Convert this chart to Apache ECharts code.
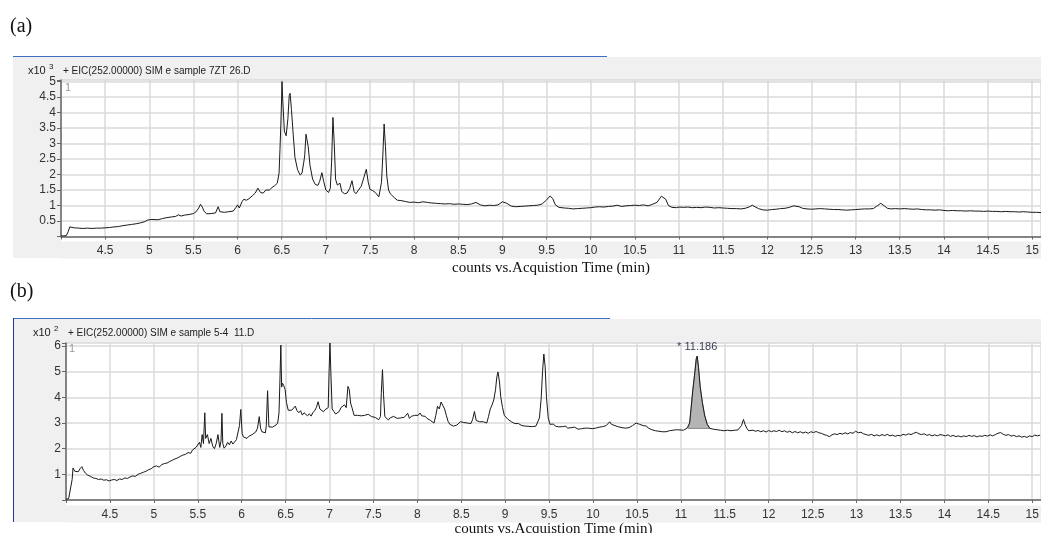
<!DOCTYPE html>
<html>
<head>
<meta charset="utf-8">
<script src="https://cdn.jsdelivr.net/npm/echarts@6/dist/echarts.min.js"></script>
<style>
html, body { margin: 0; padding: 0; background: #fff; }
#chart0 { width: 1041px; height: 533px; }
</style>
</head>
<body>
<div id="chart0"></div>
<script>
'use strict';

// (a) sample 7ZT 26.D, counts x10^3
var aTime = [4.00, 4.03, 4.06, 4.08, 4.10, 4.12, 4.15, 4.20, 4.25, 4.30, 4.35, 4.40, 4.45, 4.50, 4.55, 4.60,
	4.65, 4.70, 4.75, 4.80, 4.85, 4.90, 4.95, 4.98, 5.00, 5.03, 5.05, 5.10, 5.15, 5.20, 5.25, 5.30,
	5.33, 5.36, 5.40, 5.45, 5.50, 5.53, 5.56, 5.58, 5.60, 5.62, 5.65, 5.70, 5.75, 5.78, 5.80, 5.85,
	5.90, 5.95, 5.98, 6.00, 6.02, 6.05, 6.07, 6.10, 6.13, 6.17, 6.20, 6.23, 6.26, 6.29, 6.32, 6.34,
	6.36, 6.39, 6.42, 6.45, 6.47, 6.48, 6.49, 6.50, 6.503, 6.51, 6.53, 6.55, 6.56, 6.57, 6.585, 6.595,
	6.61, 6.63, 6.65, 6.68, 6.71, 6.73, 6.75, 6.76, 6.775, 6.785, 6.80, 6.82, 6.85, 6.88, 6.91, 6.93,
	6.955, 6.975, 7.00, 7.03, 7.05, 7.065, 7.08, 7.095, 7.11, 7.13, 7.16, 7.18, 7.21, 7.24, 7.27, 7.296,
	7.32, 7.34, 7.37, 7.40, 7.43, 7.458, 7.48, 7.50, 7.53, 7.56, 7.60, 7.63, 7.645, 7.66, 7.675, 7.69,
	7.71, 7.73, 7.75, 7.78, 7.81, 7.85, 7.90, 7.95, 8.00, 8.05, 8.10, 8.15, 8.20, 8.25, 8.30, 8.35,
	8.40, 8.45, 8.50, 8.55, 8.60, 8.65, 8.70, 8.75, 8.80, 8.85, 8.90, 8.95, 9.00, 9.02, 9.05, 9.10,
	9.15, 9.20, 9.25, 9.30, 9.35, 9.40, 9.45, 9.50, 9.54, 9.57, 9.60, 9.64, 9.70, 9.75, 9.80, 9.85,
	9.90, 9.95, 10.00, 10.05, 10.10, 10.15, 10.20, 10.25, 10.30, 10.35, 10.40, 10.45, 10.50, 10.55, 10.60, 10.65,
	10.70, 10.75, 10.80, 10.82, 10.85, 10.88, 10.92, 10.97, 11.00, 11.05, 11.10, 11.15, 11.20, 11.25, 11.30, 11.35,
	11.40, 11.45, 11.50, 11.55, 11.60, 11.65, 11.70, 11.75, 11.80, 11.83, 11.86, 11.90, 11.95, 12.00, 12.05, 12.10,
	12.15, 12.20, 12.25, 12.30, 12.32, 12.36, 12.40, 12.45, 12.50, 12.55, 12.60, 12.65, 12.70, 12.75, 12.80, 12.85,
	12.90, 12.95, 13.00, 13.05, 13.10, 13.15, 13.20, 13.25, 13.285, 13.32, 13.36, 13.40, 13.45, 13.50, 13.55, 13.60,
	13.65, 13.70, 13.75, 13.80, 13.85, 13.90, 13.95, 14.00, 14.05, 14.10, 14.15, 14.20, 14.25, 14.30, 14.35, 14.40,
	14.45, 14.50, 14.55, 14.60, 14.65, 14.70, 14.75, 14.80, 14.85, 14.90, 14.95, 15.00, 15.05, 15.11];
var aCount = [0.02, 0.02, 0.03, 0.15, 0.31, 0.30, 0.28, 0.27, 0.26, 0.27, 0.26, 0.27, 0.27, 0.28, 0.29, 0.31,
	0.32, 0.35, 0.37, 0.39, 0.41, 0.44, 0.48, 0.53, 0.51, 0.55, 0.50, 0.54, 0.58, 0.61, 0.63, 0.65,
	0.70, 0.66, 0.69, 0.71, 0.74, 0.80, 0.92, 1.04, 0.95, 0.82, 0.73, 0.74, 0.76, 0.96, 0.80, 0.78,
	0.80, 0.82, 0.93, 1.02, 0.92, 1.12, 1.20, 1.17, 1.22, 1.32, 1.40, 1.56, 1.42, 1.40, 1.50, 1.56,
	1.50, 1.58, 1.64, 1.72, 2.05, 2.80, 3.60, 4.60, 5.00, 4.50, 3.40, 3.25, 3.30, 3.80, 4.55, 4.62,
	4.10, 3.30, 2.55, 2.15, 1.98, 2.05, 2.40, 2.60, 3.30, 3.33, 2.90, 2.30, 1.85, 1.68, 1.65, 1.78,
	2.06, 1.78, 1.50, 1.42, 1.55, 2.40, 3.84, 3.00, 1.85, 1.66, 1.72, 1.45, 1.38, 1.40, 1.55, 1.80,
	1.45, 1.38, 1.50, 1.62, 1.90, 2.17, 1.75, 1.52, 1.48, 1.42, 1.28, 1.75, 2.60, 3.63, 2.90, 1.95,
	1.50, 1.38, 1.42, 1.24, 1.17, 1.16, 1.13, 1.10, 1.11, 1.09, 1.12, 1.10, 1.08, 1.07, 1.06, 1.05,
	1.06, 1.04, 1.05, 1.04, 1.03, 1.05, 1.10, 1.02, 0.99, 1.01, 1.00, 1.02, 1.12, 1.15, 1.07, 0.98,
	0.96, 0.97, 0.98, 0.99, 1.00, 1.01, 1.05, 1.18, 1.31, 1.22, 1.02, 0.94, 0.92, 0.91, 0.89, 0.90,
	0.91, 0.92, 0.93, 0.95, 0.96, 0.95, 0.97, 0.98, 1.01, 0.97, 0.99, 1.00, 1.01, 1.00, 1.02, 0.99,
	1.04, 1.10, 1.30, 1.34, 1.20, 1.00, 0.94, 0.93, 0.95, 0.94, 0.95, 0.93, 0.94, 0.93, 0.95, 0.94,
	0.92, 0.93, 0.92, 0.91, 0.90, 0.90, 0.89, 0.91, 0.96, 1.01, 0.96, 0.90, 0.86, 0.85, 0.87, 0.88,
	0.90, 0.91, 0.94, 0.99, 1.01, 0.96, 0.91, 0.89, 0.88, 0.89, 0.90, 0.89, 0.88, 0.87, 0.87, 0.86,
	0.85, 0.86, 0.87, 0.88, 0.89, 0.89, 0.90, 1.00, 1.07, 1.00, 0.91, 0.89, 0.90, 0.89, 0.90, 0.89,
	0.88, 0.89, 0.87, 0.86, 0.86, 0.85, 0.86, 0.84, 0.83, 0.84, 0.83, 0.83, 0.82, 0.83, 0.82, 0.82,
	0.81, 0.82, 0.81, 0.81, 0.80, 0.81, 0.80, 0.80, 0.79, 0.80, 0.79, 0.78, 0.78, 0.77];

// (b) sample 5-4 11.D, counts x10^2
var bTime = [4.00, 4.03, 4.05, 4.07, 4.08, 4.09, 4.10, 4.12, 4.14, 4.16, 4.18, 4.20, 4.22, 4.25, 4.28, 4.31,
	4.34, 4.37, 4.40, 4.43, 4.46, 4.49, 4.52, 4.55, 4.58, 4.61, 4.64, 4.67, 4.70, 4.73, 4.76, 4.79,
	4.82, 4.85, 4.88, 4.91, 4.94, 4.97, 5.00, 5.03, 5.06, 5.09, 5.12, 5.15, 5.18, 5.21, 5.24, 5.27,
	5.30, 5.33, 5.36, 5.39, 5.42, 5.44, 5.46, 5.48, 5.50, 5.52, 5.535, 5.55, 5.565, 5.58, 5.59, 5.61,
	5.63, 5.65, 5.67, 5.69, 5.71, 5.73, 5.75, 5.765, 5.775, 5.785, 5.80, 5.82, 5.84, 5.86, 5.88, 5.90,
	5.92, 5.94, 5.96, 5.975, 5.99, 6.005, 6.02, 6.04, 6.06, 6.08, 6.10, 6.12, 6.14, 6.16, 6.18, 6.20,
	6.215, 6.23, 6.25, 6.27, 6.28, 6.295, 6.31, 6.33, 6.35, 6.37, 6.39, 6.41, 6.425, 6.435, 6.446, 6.455,
	6.465, 6.48, 6.495, 6.51, 6.53, 6.55, 6.57, 6.59, 6.61, 6.63, 6.65, 6.67, 6.69, 6.71, 6.73, 6.75,
	6.77, 6.79, 6.81, 6.83, 6.85, 6.87, 6.89, 6.91, 6.93, 6.95, 6.97, 6.985, 6.995, 7.005, 7.015, 7.03,
	7.05, 7.07, 7.09, 7.11, 7.13, 7.15, 7.17, 7.19, 7.21, 7.225, 7.24, 7.26, 7.28, 7.30, 7.32, 7.34,
	7.36, 7.38, 7.40, 7.42, 7.44, 7.46, 7.48, 7.50, 7.52, 7.54, 7.56, 7.58, 7.59, 7.603, 7.615, 7.63,
	7.65, 7.67, 7.69, 7.71, 7.73, 7.75, 7.77, 7.79, 7.81, 7.83, 7.85, 7.87, 7.89, 7.91, 7.93, 7.95,
	7.97, 7.99, 8.01, 8.03, 8.05, 8.07, 8.09, 8.11, 8.13, 8.15, 8.17, 8.19, 8.21, 8.23, 8.25, 8.27,
	8.29, 8.31, 8.33, 8.35, 8.37, 8.39, 8.41, 8.43, 8.45, 8.47, 8.49, 8.51, 8.53, 8.55, 8.57, 8.59,
	8.61, 8.63, 8.65, 8.67, 8.69, 8.71, 8.73, 8.75, 8.77, 8.79, 8.81, 8.83, 8.85, 8.87, 8.89, 8.905,
	8.918, 8.935, 8.95, 8.97, 8.99, 9.01, 9.03, 9.05, 9.07, 9.09, 9.11, 9.13, 9.15, 9.17, 9.19, 9.21,
	9.23, 9.25, 9.27, 9.29, 9.31, 9.33, 9.35, 9.37, 9.39, 9.41, 9.425, 9.44, 9.455, 9.47, 9.49, 9.51,
	9.53, 9.55, 9.57, 9.59, 9.61, 9.63, 9.65, 9.67, 9.69, 9.71, 9.73, 9.75, 9.77, 9.79, 9.81, 9.83,
	9.85, 9.87, 9.89, 9.91, 9.93, 9.95, 9.97, 9.99, 10.01, 10.03, 10.05, 10.07, 10.09, 10.11, 10.13, 10.15,
	10.17, 10.19, 10.21, 10.23, 10.25, 10.27, 10.29, 10.31, 10.33, 10.35, 10.37, 10.39, 10.41, 10.43, 10.45, 10.47,
	10.49, 10.51, 10.53, 10.55, 10.57, 10.59, 10.61, 10.63, 10.65, 10.67, 10.69, 10.71, 10.73, 10.75, 10.77, 10.79,
	10.81, 10.83, 10.85, 10.87, 10.89, 10.91, 10.93, 10.95, 10.97, 10.99, 11.01, 11.03, 11.05, 11.07, 11.08, 11.10,
	11.12, 11.136, 11.16, 11.175, 11.186, 11.20, 11.22, 11.245, 11.27, 11.30, 11.33, 11.35, 11.37, 11.39, 11.41, 11.43,
	11.45, 11.47, 11.49, 11.51, 11.53, 11.55, 11.57, 11.59, 11.61, 11.63, 11.65, 11.67, 11.69, 11.713, 11.73, 11.75,
	11.77, 11.79, 11.82, 11.85, 11.88, 11.91, 11.94, 11.97, 12.00, 12.03, 12.06, 12.09, 12.12, 12.15, 12.18, 12.21,
	12.24, 12.27, 12.30, 12.33, 12.36, 12.39, 12.42, 12.45, 12.48, 12.51, 12.54, 12.57, 12.60, 12.63, 12.66, 12.69,
	12.72, 12.75, 12.78, 12.81, 12.84, 12.87, 12.90, 12.93, 12.96, 12.99, 13.02, 13.05, 13.08, 13.11, 13.14, 13.17,
	13.20, 13.23, 13.26, 13.29, 13.32, 13.35, 13.38, 13.41, 13.44, 13.47, 13.50, 13.53, 13.56, 13.59, 13.62, 13.65,
	13.68, 13.71, 13.74, 13.77, 13.80, 13.83, 13.86, 13.89, 13.92, 13.95, 13.98, 14.01, 14.04, 14.07, 14.10, 14.13,
	14.16, 14.19, 14.22, 14.25, 14.28, 14.31, 14.34, 14.37, 14.40, 14.43, 14.46, 14.49, 14.52, 14.55, 14.58, 14.61,
	14.64, 14.67, 14.70, 14.73, 14.76, 14.79, 14.82, 14.85, 14.88, 14.91, 14.94, 14.97, 15.00, 15.03, 15.06, 15.09];
var bCount = [0.03, 0.05, 0.10, 0.80, 1.25, 1.30, 1.12, 1.18, 1.10, 1.22, 1.30, 1.15, 1.05, 0.96, 0.92, 0.86,
	0.84, 0.80, 0.82, 0.77, 0.79, 0.74, 0.78, 0.80, 0.76, 0.82, 0.80, 0.86, 0.84, 0.90, 0.94, 0.92,
	1.00, 1.04, 1.08, 1.12, 1.18, 1.22, 1.30, 1.33, 1.28, 1.38, 1.42, 1.44, 1.50, 1.55, 1.60, 1.64,
	1.70, 1.75, 1.78, 1.85, 1.82, 1.95, 1.88, 2.05, 1.98, 2.25, 2.05, 2.55, 2.20, 3.40, 2.40, 2.55,
	2.20, 2.40, 2.10, 2.00, 2.20, 2.55, 2.05, 2.30, 3.38, 2.20, 2.02, 2.10, 2.25, 2.15, 2.30, 2.18,
	2.15, 2.35, 2.30, 2.90, 3.53, 2.60, 2.46, 2.52, 2.40, 2.48, 2.42, 2.55, 2.50, 2.65, 2.80, 3.25,
	2.80, 2.66, 2.70, 2.62, 2.90, 4.26, 2.85, 2.80, 2.84, 2.88, 2.92, 3.00, 3.40, 4.60, 6.04, 4.40,
	4.55, 4.45, 4.30, 3.80, 3.50, 3.45, 3.50, 3.44, 3.66, 3.48, 3.40, 3.48, 3.31, 3.40, 3.35, 3.28,
	3.36, 3.27, 3.40, 3.48, 3.60, 3.83, 3.55, 3.50, 3.44, 3.52, 3.57, 3.60, 5.00, 6.12, 5.00, 3.55,
	3.45, 3.35, 3.31, 3.45, 3.60, 3.66, 3.71, 3.60, 4.43, 4.30, 3.78, 3.55, 3.30, 3.26, 3.30, 3.24,
	3.28, 3.22, 3.30, 3.26, 3.34, 3.32, 3.25, 3.28, 3.22, 3.19, 3.13, 3.25, 4.20, 5.08, 4.10, 3.25,
	3.19, 3.12, 3.20, 3.15, 3.26, 3.22, 3.18, 3.24, 3.20, 3.16, 3.22, 3.20, 3.38, 3.18, 3.26, 3.20,
	3.30, 3.25, 3.30, 3.39, 3.28, 3.22, 3.26, 3.18, 3.15, 3.10, 3.05, 3.00, 3.30, 3.65, 3.55, 3.82,
	3.78, 3.55, 3.30, 3.06, 2.95, 2.90, 2.88, 2.86, 2.92, 2.90, 3.05, 3.10, 3.02, 3.08, 3.00, 2.96,
	2.98, 3.15, 3.45, 3.10, 3.15, 3.05, 2.98, 3.05, 3.02, 3.00, 3.25, 3.55, 3.70, 3.90, 4.30, 4.80,
	4.99, 4.60, 4.00, 3.60, 3.30, 3.26, 3.15, 3.10, 3.05, 3.00, 2.98, 2.95, 2.98, 2.92, 2.90, 2.95,
	2.88, 2.92, 2.87, 2.90, 2.86, 2.92, 2.88, 2.90, 3.20, 3.97, 5.00, 5.69, 5.20, 4.00, 3.20, 2.95,
	2.91, 2.96, 2.88, 2.92, 2.85, 2.90, 2.86, 2.82, 2.88, 2.80, 2.74, 2.82, 2.78, 2.84, 2.80, 2.76,
	2.82, 2.78, 2.84, 2.80, 2.77, 2.80, 2.74, 2.78, 2.75, 2.80, 2.78, 2.84, 2.80, 2.86, 2.82, 2.90,
	2.95, 3.05, 2.95, 2.98, 2.90, 2.95, 2.85, 2.88, 2.82, 2.86, 2.80, 2.84, 2.82, 2.88, 2.90, 2.96,
	3.00, 3.05, 2.95, 2.98, 2.90, 2.86, 2.88, 2.80, 2.78, 2.74, 2.76, 2.70, 2.72, 2.68, 2.70, 2.66,
	2.70, 2.66, 2.68, 2.70, 2.67, 2.72, 2.68, 2.74, 2.70, 2.73, 2.76, 2.72, 2.78, 2.80, 2.79, 3.00,
	3.70, 4.28, 5.00, 5.50, 5.61, 5.20, 4.41, 3.80, 3.31, 2.95, 2.79, 2.82, 2.76, 2.80, 2.74, 2.78,
	2.72, 2.76, 2.70, 2.74, 2.72, 2.76, 2.70, 2.74, 2.72, 2.75, 2.73, 2.78, 2.90, 3.14, 2.95, 2.80,
	2.70, 2.66, 2.72, 2.68, 2.71, 2.66, 2.70, 2.65, 2.71, 2.66, 2.70, 2.67, 2.72, 2.66, 2.70, 2.64,
	2.68, 2.62, 2.67, 2.62, 2.66, 2.61, 2.65, 2.60, 2.66, 2.63, 2.67, 2.62, 2.60, 2.55, 2.52, 2.47,
	2.54, 2.58, 2.55, 2.60, 2.57, 2.62, 2.58, 2.63, 2.60, 2.68, 2.62, 2.64, 2.58, 2.55, 2.52, 2.56,
	2.50, 2.54, 2.50, 2.55, 2.51, 2.56, 2.50, 2.53, 2.48, 2.52, 2.50, 2.56, 2.53, 2.58, 2.55, 2.60,
	2.64, 2.58, 2.55, 2.58, 2.52, 2.55, 2.50, 2.54, 2.50, 2.55, 2.53, 2.50, 2.54, 2.48, 2.52, 2.47,
	2.50, 2.46, 2.50, 2.47, 2.52, 2.48, 2.51, 2.46, 2.50, 2.48, 2.52, 2.49, 2.54, 2.50, 2.55, 2.60,
	2.63, 2.56, 2.52, 2.55, 2.49, 2.52, 2.47, 2.50, 2.45, 2.48, 2.44, 2.50, 2.47, 2.53, 2.50, 2.53];

// integrated peak in (b)
var peakStart = 11.08;
var peakEnd = 11.33;
var peakBase = 2.79;
var peakLabel = '* 11.186';

function pairs(t, v) {
	var out = [];
	for (var i = 0; i < t.length; i++) {
		out.push([ t[i], v[i] ]);
	}
	return out;
}

var shade = [];
var peakTop = null;
for (var i = 0; i < bTime.length; i++) {
	if (bTime[i] >= peakStart && bTime[i] <= peakEnd) {
		shade.push([ bTime[i], bCount[i] ]);
		if (peakTop == null || bCount[i] > peakTop[1]) {
			peakTop = [ bTime[i], bCount[i] ];
		}
	}
}

function halfStep(v) {
	return Math.abs(v * 2 - Math.round(v * 2)) < 1e-6;
}

var labelFont = 'Liberation Sans';
var serif = 'Liberation Serif';

function timeAxis(grid, offset, gap) {
	return {
		type : 'value',
		gridIndex : grid,
		min : 4,
		max : 15.1,
		interval : 0.5,
		offset : offset,
		name : 'counts vs.Acquistion Time (min)',
		nameLocation : 'middle',
		nameGap : gap,
		nameTextStyle : {
			fontFamily : serif,
			fontSize : 15,
			color : '#111'
		},
		axisLine : {
			lineStyle : {
				color : '#666',
				width : 1.5
			}
		},
		axisTick : {
			length : 3,
			lineStyle : {
				color : '#666'
			}
		},
		axisLabel : {
			margin : 4,
			fontFamily : labelFont,
			fontSize : 12,
			color : '#333',
			formatter : function(v) {
				return (halfStep(v) && v > 4.01 && v < 15.05) ? String(v) : '';
			}
		},
		splitLine : {
			show : true,
			lineStyle : {
				color : '#dadada',
				width : 1.5
			}
		}
	};
}

function countAxis(grid, max, step, top) {
	return {
		type : 'value',
		gridIndex : grid,
		min : 0,
		max : max,
		interval : step,
		axisLine : {
			show : true,
			lineStyle : {
				color : '#666',
				width : 1.5
			}
		},
		axisTick : {
			show : true,
			length : 4,
			lineStyle : {
				color : '#666'
			}
		},
		axisLabel : {
			margin : 5,
			fontFamily : labelFont,
			fontSize : 12,
			color : '#333',
			formatter : function(v) {
				return (v > 0 && v <= top + 1e-6 && Math.abs(v / step - Math.round(v / step)) < 1e-6) ? String(v) : '';
			}
		},
		splitLine : {
			show : true,
			lineStyle : {
				color : '#dadada',
				width : 1.5
			}
		}
	};
}

function txt(x, y, s, size, color, font) {
	return {
		type : 'text',
		x : x,
		y : y,
		z : 5,
		style : {
			text : s,
			fontFamily : font || labelFont,
			fontSize : size,
			fill : color || '#222',
			textVerticalAlign : 'middle'
		}
	};
}

function rect(x, y, w, h, color) {
	return {
		type : 'rect',
		z : -5,
		shape : {
			x : x,
			y : y,
			width : w,
			height : h
		},
		style : {
			fill : color
		}
	};
}

function line(x1, y1, x2, y2, color) {
	return {
		type : 'line',
		z : 5,
		shape : {
			x1 : x1,
			y1 : y1,
			x2 : x2,
			y2 : y2
		},
		style : {
			stroke : color,
			lineWidth : 1
		}
	};
}

var panel = '#f0f0f0';
var chart0 = echarts.init(document.getElementById('chart0'));
chart0.setOption({
	animation : false,
	backgroundColor : '#fff',
	grid : [ {
		left : 61,
		right : 0,
		top : 80,
		height : 156.5,
		outerBoundsMode : 'none',
		containLabel : false,
		show : false
	}, {
		left : 66,
		right : 0,
		top : 343,
		height : 157,
		outerBoundsMode : 'none',
		containLabel : false,
		show : false
	} ],
	xAxis : [ timeAxis(0, 4.5, 20), timeAxis(1, 5, 17) ],
	yAxis : [ countAxis(0, 5.05, 0.5, 5), countAxis(1, 6.12, 1, 6) ],
	graphic : [
		rect(13, 57, 48, 201, panel),
		rect(61, 57, 980, 23, panel),
		rect(61, 241.5, 980, 17, panel),
		rect(14, 319, 52, 203, panel),
		rect(66, 319, 975, 24, panel),
		rect(66, 505.5, 975, 17, panel),
		line(13, 56.5, 607, 56.5, '#3f6fc4'),
		line(13, 318.5, 610, 318.5, '#3f6fc4'),
		line(13.5, 318, 13.5, 522, '#1f3a8f'),
		txt(10, 27, '(a)', 20, '#111', serif),
		txt(10, 292, '(b)', 20, '#111', serif),
		txt(28, 71, 'x10', 11),
		txt(49, 67, '3', 8),
		txt(63, 71, '+ EIC(252.00000) SIM e sample 7ZT 26.D', 10),
		txt(65, 88, '1', 11, '#9a9a9a'),
		txt(33, 333, 'x10', 11),
		txt(54, 329, '2', 8),
		txt(68, 333, '+ EIC(252.00000) SIM e sample 5-4  11.D', 10),
		txt(69, 349, '1', 11, '#9a9a9a')
	],
	series : [ {
		name : 'a',
		type : 'line',
		xAxisIndex : 0,
		yAxisIndex : 0,
		symbol : 'none',
		z : 4,
		lineStyle : {
			color : '#1a1a1a',
			width : 1
		},
		data : pairs(aTime, aCount)
	}, {
		name : 'peak area',
		type : 'custom',
		xAxisIndex : 1,
		yAxisIndex : 1,
		z : 2,
		data : [ [ peakStart, peakBase ] ],
		renderItem : function(params, api) {
			var pts = [];
			for (var k = 0; k < shade.length; k++) {
				pts.push(api.coord(shade[k]));
			}
			pts.push(api.coord([ peakEnd, peakBase ]));
			pts.push(api.coord([ peakStart, peakBase ]));
			return {
				type : 'polygon',
				shape : {
					points : pts
				},
				style : {
					fill : '#b4b4b4',
					stroke : '#8a8a8a',
					lineWidth : 1
				}
			};
		}
	}, {
		name : 'b',
		type : 'line',
		xAxisIndex : 1,
		yAxisIndex : 1,
		symbol : 'none',
		z : 4,
		lineStyle : {
			color : '#1a1a1a',
			width : 1
		},
		markPoint : {
			symbol : 'circle',
			symbolSize : 0,
			label : {
				show : true,
				position : 'top',
				distance : 4,
				formatter : peakLabel,
				fontFamily : labelFont,
				fontSize : 11,
				color : '#3a3f55'
			},
			data : [ {
				coord : peakTop
			} ]
		},
		data : pairs(bTime, bCount)
	} ]
});
</script>
</body>
</html>
